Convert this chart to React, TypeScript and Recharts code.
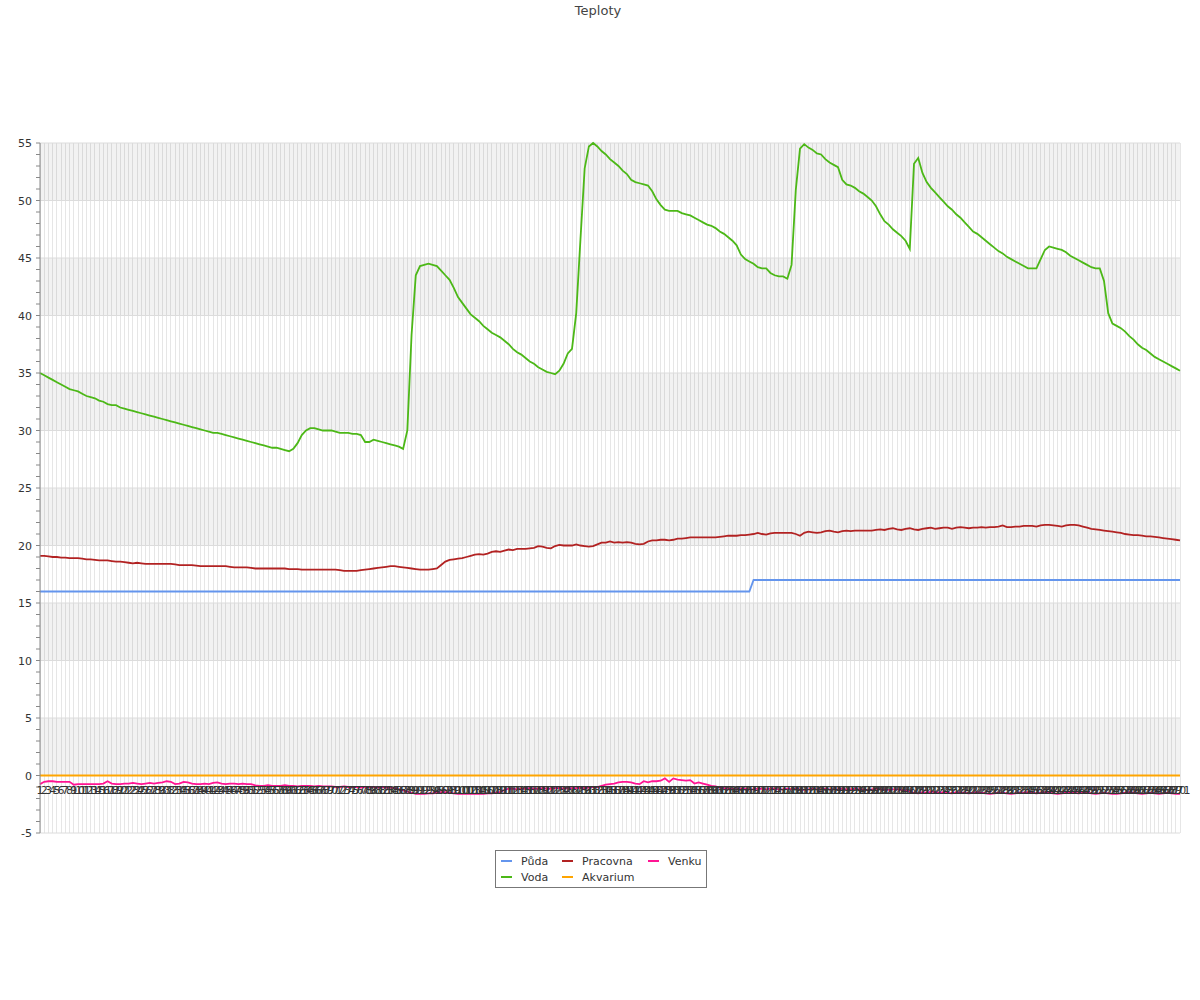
import React from 'react';
import { LineChart, Line, XAxis, YAxis, CartesianGrid, ReferenceArea, ReferenceLine } from 'recharts';

// ---------- data ----------
const labels: string[] = Array.from({ length: 271 }, (_, i) => String(i + 1));

const puda: number[] = [
  16, 16, 16, 16, 16, 16, 16, 16, 16, 16,
  16, 16, 16, 16, 16, 16, 16, 16, 16, 16,
  16, 16, 16, 16, 16, 16, 16, 16, 16, 16,
  16, 16, 16, 16, 16, 16, 16, 16, 16, 16,
  16, 16, 16, 16, 16, 16, 16, 16, 16, 16,
  16, 16, 16, 16, 16, 16, 16, 16, 16, 16,
  16, 16, 16, 16, 16, 16, 16, 16, 16, 16,
  16, 16, 16, 16, 16, 16, 16, 16, 16, 16,
  16, 16, 16, 16, 16, 16, 16, 16, 16, 16,
  16, 16, 16, 16, 16, 16, 16, 16, 16, 16,
  16, 16, 16, 16, 16, 16, 16, 16, 16, 16,
  16, 16, 16, 16, 16, 16, 16, 16, 16, 16,
  16, 16, 16, 16, 16, 16, 16, 16, 16, 16,
  16, 16, 16, 16, 16, 16, 16, 16, 16, 16,
  16, 16, 16, 16, 16, 16, 16, 16, 16, 16,
  16, 16, 16, 16, 16, 16, 16, 16, 16, 16,
  16, 16, 16, 16, 16, 16, 16, 16, 16, 17,
  17, 17, 17, 17, 17, 17, 17, 17, 17, 17,
  17, 17, 17, 17, 17, 17, 17, 17, 17, 17,
  17, 17, 17, 17, 17, 17, 17, 17, 17, 17,
  17, 17, 17, 17, 17, 17, 17, 17, 17, 17,
  17, 17, 17, 17, 17, 17, 17, 17, 17, 17,
  17, 17, 17, 17, 17, 17, 17, 17, 17, 17,
  17, 17, 17, 17, 17, 17, 17, 17, 17, 17,
  17, 17, 17, 17, 17, 17, 17, 17, 17, 17,
  17, 17, 17, 17, 17, 17, 17, 17, 17, 17,
  17, 17, 17, 17, 17, 17, 17, 17, 17, 17,
  17,
];

const voda: number[] = [
  35.0, 34.8, 34.6, 34.4, 34.2, 34.0, 33.8, 33.6, 33.5, 33.4,
  33.2, 33.0, 32.9, 32.8, 32.6, 32.5, 32.3, 32.2, 32.2, 32.0,
  31.9, 31.8, 31.7, 31.6, 31.5, 31.4, 31.3, 31.2, 31.1, 31.0,
  30.9, 30.8, 30.7, 30.6, 30.5, 30.4, 30.3, 30.2, 30.1, 30.0,
  29.9, 29.8, 29.8, 29.7, 29.6, 29.5, 29.4, 29.3, 29.2, 29.1,
  29.0, 28.9, 28.8, 28.7, 28.6, 28.5, 28.5, 28.4, 28.3, 28.2,
  28.4, 28.9, 29.6, 30.0, 30.2, 30.2, 30.1, 30.0, 30.0, 30.0,
  29.9, 29.8, 29.8, 29.8, 29.7, 29.7, 29.6, 29.0, 29.0, 29.2,
  29.1, 29.0, 28.9, 28.8, 28.7, 28.6, 28.4, 30.0, 38.3, 43.5,
  44.3, 44.4, 44.5, 44.4, 44.3, 43.9, 43.5, 43.1, 42.4, 41.6,
  41.1, 40.6, 40.1, 39.8, 39.5, 39.1, 38.8, 38.5, 38.3, 38.1,
  37.8, 37.5, 37.1, 36.8, 36.6, 36.3, 36.0, 35.8, 35.5, 35.3,
  35.1, 35.0, 34.9, 35.2, 35.8, 36.7, 37.1, 40.2, 46.6, 52.8,
  54.7, 55.0, 54.7, 54.3, 54.0, 53.6, 53.3, 53.0, 52.6, 52.3,
  51.8, 51.6, 51.5, 51.4, 51.3, 50.8, 50.1, 49.6, 49.2, 49.1,
  49.1, 49.1, 48.9, 48.8, 48.7, 48.5, 48.3, 48.1, 47.9, 47.8,
  47.6, 47.3, 47.1, 46.8, 46.5, 46.1, 45.3, 44.9, 44.7, 44.5,
  44.2, 44.1, 44.1, 43.7, 43.5, 43.4, 43.4, 43.2, 44.4, 50.9,
  54.5, 54.9, 54.6, 54.4, 54.1, 54.0, 53.6, 53.3, 53.1, 52.9,
  51.8, 51.4, 51.3, 51.1, 50.8, 50.6, 50.3, 50.0, 49.5, 48.8,
  48.2, 47.9, 47.5, 47.2, 46.9, 46.5, 45.8, 53.2, 53.7, 52.4,
  51.6, 51.1, 50.7, 50.3, 49.9, 49.5, 49.2, 48.8, 48.5, 48.1,
  47.7, 47.3, 47.1, 46.8, 46.5, 46.2, 45.9, 45.6, 45.4, 45.1,
  44.9, 44.7, 44.5, 44.3, 44.1, 44.1, 44.1, 44.9, 45.7, 46.0,
  45.9, 45.8, 45.7, 45.5, 45.2, 45.0, 44.8, 44.6, 44.4, 44.2,
  44.1, 44.1, 43.0, 40.2, 39.3, 39.1, 38.9, 38.6, 38.2, 37.9,
  37.5, 37.2, 37.0, 36.7, 36.4, 36.2, 36.0, 35.8, 35.6, 35.4,
  35.2,
];

const pracovna: number[] = [
  19.1, 19.1, 19.05, 19.0, 19.0, 18.95, 18.95, 18.9, 18.9, 18.9,
  18.85, 18.8, 18.8, 18.75, 18.7, 18.7, 18.7, 18.65, 18.6, 18.6,
  18.55, 18.5, 18.45, 18.5, 18.45, 18.4, 18.4, 18.4, 18.4, 18.4,
  18.4, 18.4, 18.35, 18.3, 18.3, 18.3, 18.3, 18.25, 18.2, 18.2,
  18.2, 18.2, 18.2, 18.2, 18.2, 18.15, 18.1, 18.1, 18.1, 18.1,
  18.05, 18.0, 18.0, 18.0, 18.0, 18.0, 18.0, 18.0, 18.0, 17.95,
  17.95, 17.95, 17.9, 17.9, 17.9, 17.9, 17.9, 17.9, 17.9, 17.9,
  17.9, 17.85, 17.8, 17.8, 17.8, 17.8, 17.85, 17.9, 17.95, 18.0,
  18.05, 18.1, 18.15, 18.2, 18.2, 18.15, 18.1, 18.05, 18.0, 17.95,
  17.9, 17.9, 17.9, 17.95, 18.0, 18.3, 18.6, 18.75, 18.8, 18.85,
  18.9, 19.0, 19.1, 19.2, 19.25, 19.2, 19.3, 19.45, 19.5, 19.45,
  19.55, 19.65, 19.6, 19.7, 19.7, 19.7, 19.75, 19.8, 19.95, 19.9,
  19.8, 19.75, 19.95, 20.05, 20.0, 20.0, 20.0, 20.1, 20.0, 19.95,
  19.9, 19.95, 20.1, 20.25, 20.25, 20.35, 20.25, 20.3, 20.25, 20.3,
  20.25, 20.15, 20.1, 20.15, 20.35, 20.45, 20.45, 20.5, 20.5, 20.45,
  20.5, 20.6, 20.6, 20.65, 20.7, 20.7, 20.7, 20.7, 20.7, 20.7,
  20.7, 20.75, 20.8, 20.85, 20.85, 20.85, 20.9, 20.9, 20.95, 21.0,
  21.1, 21.0, 20.95, 21.05, 21.1, 21.1, 21.1, 21.1, 21.1, 21.0,
  20.85, 21.1, 21.2, 21.15, 21.1, 21.15, 21.25, 21.3, 21.2, 21.15,
  21.25, 21.3, 21.25, 21.3, 21.3, 21.3, 21.3, 21.3, 21.35, 21.4,
  21.35, 21.45, 21.5, 21.4, 21.35, 21.45, 21.5, 21.4, 21.35, 21.45,
  21.5, 21.55, 21.45, 21.5, 21.55, 21.55, 21.45, 21.55, 21.6, 21.55,
  21.5, 21.55, 21.55, 21.6, 21.55, 21.6, 21.6, 21.65, 21.75, 21.6,
  21.6, 21.65, 21.65, 21.7, 21.7, 21.7, 21.65, 21.75, 21.8, 21.8,
  21.75, 21.7, 21.65, 21.75, 21.8, 21.8, 21.75, 21.65, 21.55, 21.45,
  21.4, 21.35, 21.3, 21.25, 21.2, 21.15, 21.1, 21.0, 20.95, 20.9,
  20.9, 20.85, 20.8, 20.8, 20.75, 20.7, 20.65, 20.6, 20.55, 20.5,
  20.45,
];

const akvarium: number[] = [
  0, 0, 0, 0, 0, 0, 0, 0, 0, 0, 0, 0, 0, 0, 0, 0, 0, 0, 0, 0,
  0, 0, 0, 0, 0, 0, 0, 0, 0, 0, 0, 0, 0, 0, 0, 0, 0, 0, 0, 0,
  0, 0, 0, 0, 0, 0, 0, 0, 0, 0, 0, 0, 0, 0, 0, 0, 0, 0, 0, 0,
  0, 0, 0, 0, 0, 0, 0, 0, 0, 0, 0, 0, 0, 0, 0, 0, 0, 0, 0, 0,
  0, 0, 0, 0, 0, 0, 0, 0, 0, 0, 0, 0, 0, 0, 0, 0, 0, 0, 0, 0,
  0, 0, 0, 0, 0, 0, 0, 0, 0, 0, 0, 0, 0, 0, 0, 0, 0, 0, 0, 0,
  0, 0, 0, 0, 0, 0, 0, 0, 0, 0, 0, 0, 0, 0, 0, 0, 0, 0, 0, 0,
  0, 0, 0, 0, 0, 0, 0, 0, 0, 0, 0, 0, 0, 0, 0, 0, 0, 0, 0, 0,
  0, 0, 0, 0, 0, 0, 0, 0, 0, 0, 0, 0, 0, 0, 0, 0, 0, 0, 0, 0,
  0, 0, 0, 0, 0, 0, 0, 0, 0, 0, 0, 0, 0, 0, 0, 0, 0, 0, 0, 0,
  0, 0, 0, 0, 0, 0, 0, 0, 0, 0, 0, 0, 0, 0, 0, 0, 0, 0, 0, 0,
  0, 0, 0, 0, 0, 0, 0, 0, 0, 0, 0, 0, 0, 0, 0, 0, 0, 0, 0, 0,
  0, 0, 0, 0, 0, 0, 0, 0, 0, 0, 0, 0, 0, 0, 0, 0, 0, 0, 0, 0,
  0, 0, 0, 0, 0, 0, 0, 0, 0, 0, 0,
];

const venku: number[] = [
  -0.75, -0.55, -0.5, -0.5, -0.55, -0.55, -0.55, -0.55, -0.8, -0.75,
  -0.75, -0.75, -0.75, -0.75, -0.75, -0.7, -0.5, -0.7, -0.75, -0.75,
  -0.7, -0.7, -0.65, -0.7, -0.75, -0.7, -0.65, -0.7, -0.65, -0.6,
  -0.5, -0.55, -0.75, -0.7, -0.55, -0.6, -0.7, -0.75, -0.75, -0.7,
  -0.75, -0.65, -0.6, -0.7, -0.75, -0.7, -0.7, -0.75, -0.7, -0.75,
  -0.75, -0.85, -0.9, -0.9, -0.85, -0.9, -0.9, -0.9, -0.85, -0.9,
  -0.9, -0.95, -0.9, -0.9, -0.9, -0.95, -0.9, -0.95, -0.95, -0.95,
  -1.0, -1.0, -0.95, -1.0, -1.0, -1.0, -1.05, -1.0, -1.0, -1.0,
  -1.05, -1.0, -1.05, -1.05, -1.1, -1.2, -1.3, -1.4, -1.5, -1.6,
  -1.6, -1.6, -1.55, -1.55, -1.5, -1.45, -1.45, -1.5, -1.55, -1.6,
  -1.6, -1.6, -1.6, -1.6, -1.6, -1.6, -1.55, -1.55, -1.5, -1.45,
  -1.25, -1.15, -1.15, -1.2, -1.15, -1.15, -1.1, -1.15, -1.15, -1.1,
  -1.15, -1.15, -1.1, -1.1, -1.15, -1.1, -1.1, -1.1, -1.05, -1.1,
  -1.05, -1.0, -1.0, -0.9, -0.8, -0.75, -0.7, -0.6, -0.55, -0.55,
  -0.6, -0.7, -0.75, -0.5, -0.6, -0.5, -0.5, -0.45, -0.25, -0.55,
  -0.25, -0.35, -0.4, -0.45, -0.4, -0.7, -0.6, -0.7, -0.8, -0.9,
  -0.95, -1.05, -1.1, -1.15, -1.15, -1.2, -1.15, -1.15, -1.2, -1.2,
  -1.15, -1.15, -1.2, -1.15, -1.15, -1.2, -1.2, -1.15, -1.2, -1.15,
  -1.2, -1.25, -1.2, -1.15, -1.2, -1.2, -1.15, -1.2, -1.2, -1.2,
  -1.15, -1.2, -1.2, -1.15, -1.2, -1.2, -1.25, -1.2, -1.15, -1.2,
  -1.2, -1.25, -1.2, -1.2, -1.25, -1.3, -1.4, -1.5, -1.55, -1.45,
  -1.5, -1.4, -1.45, -1.5, -1.45, -1.5, -1.55, -1.45, -1.5, -1.5,
  -1.55, -1.5, -1.45, -1.5, -1.55, -1.6, -1.55, -1.5, -1.5, -1.55,
  -1.6, -1.55, -1.5, -1.5, -1.45, -1.5, -1.55, -1.5, -1.45, -1.5,
  -1.55, -1.6, -1.55, -1.5, -1.45, -1.5, -1.55, -1.5, -1.45, -1.55,
  -1.6, -1.55, -1.5, -1.55, -1.6, -1.6, -1.55, -1.5, -1.45, -1.5,
  -1.55, -1.6, -1.55, -1.5, -1.55, -1.6, -1.55, -1.5, -1.55, -1.6,
  -1.6,
];

const yTicks: number[] = [
  -5, -4, -3, -2, -1, 0, 1, 2, 3, 4, 5, 6, 7, 8, 9, 10, 11, 12, 13, 14, 15,
  16, 17, 18, 19, 20, 21, 22, 23, 24, 25, 26, 27, 28, 29, 30, 31, 32, 33, 34, 35,
  36, 37, 38, 39, 40, 41, 42, 43, 44, 45, 46, 47, 48, 49, 50, 51, 52, 53, 54, 55,
];
const majorLines: number[] = [-5, 5, 10, 15, 20, 25, 30, 35, 40, 45, 50, 55];
const bands: [number, number][] = [[0, 5], [10, 15], [20, 25], [30, 35], [40, 45], [50, 55]];

// ---------- config ----------
const SERIES = [
  { key: 'puda', name: 'Půda', color: '#6495ed' },
  { key: 'voda', name: 'Voda', color: '#4cb817' },
  { key: 'pracovna', name: 'Pracovna', color: '#b22222' },
  { key: 'akvarium', name: 'Akvarium', color: '#ffa500' },
  { key: 'venku', name: 'Venku', color: '#ff1493' },
];

const data = labels.map((label, i) => ({
  label,
  puda: puda[i],
  voda: voda[i],
  pracovna: pracovna[i],
  akvarium: akvarium[i],
  venku: venku[i],
}));

const W = 1200;
const H = 1000;
const MARGIN = { top: 143, right: 20, bottom: 166, left: 0 };
const X_AXIS_H = 1;
const Y_AXIS_W = 40;
const Y_MIN = -5;
const Y_MAX = 55;
const PLOT_H = H - MARGIN.top - MARGIN.bottom - X_AXIS_H;
const ZERO_Y = MARGIN.top + (PLOT_H * (Y_MAX - 0)) / (Y_MAX - Y_MIN);
const FONT = '"DejaVu Sans", Verdana, sans-serif';

const YTick = (props: any) => {
  const { x, y, payload } = props;
  if (payload.value % 5 !== 0) return <g />;
  return (
    <text x={x - 2} y={y} dy={4} textAnchor="end" fontSize={11} fontFamily={FONT} fill="#333">
      {payload.value}
    </text>
  );
};

const XTick = (props: any) => {
  const { x, payload } = props;
  return (
    <text x={x} y={ZERO_Y + 18} textAnchor="middle" fontSize={11} fontFamily={FONT} fill="#333">
      {payload.value}
    </text>
  );
};

const LegendBox = () => {
  return (
    <div
      style={{
        position: 'absolute',
        left: 495,
        top: 850,
        width: 205,
        height: 34,
        border: '1px solid #777',
        display: 'grid',
        gridTemplateColumns: '61px 86px 55px',
        gridTemplateRows: '16px 16px',
        gridAutoFlow: 'column',
        paddingLeft: 5,
        paddingTop: 2,
        boxSizing: 'content-box',
        fontFamily: FONT,
        fontSize: 11,
        color: '#333',
      }}
    >
      {SERIES.map((s) => (
        <div key={s.key} style={{ display: 'flex', alignItems: 'center', whiteSpace: 'nowrap' }}>
          <span style={{ display: 'inline-block', width: 11, height: 2, background: s.color, marginRight: 9 }} />
          <span>{s.name}</span>
        </div>
      ))}
    </div>
  );
};

export default function App() {
  return (
    <div style={{ position: 'absolute', left: 0, top: 0, width: W, height: H, background: '#fff' }}>
      <div
        style={{
          position: 'absolute',
          left: 0,
          top: 3,
          width: W - 4,
          textAlign: 'center',
          fontFamily: FONT,
          fontSize: 13,
          color: '#444',
        }}
      >
        Teploty
      </div>
      <LineChart width={W} height={H} data={data} margin={MARGIN}>
        {bands.map(([a, b]) => (
          <ReferenceArea key={`band${a}`} y1={a} y2={b} fill="#000" fillOpacity={0.05} stroke="none" />
        ))}
        <CartesianGrid horizontal={false} vertical={true} stroke="#e6e6e6" shapeRendering="crispEdges" />
        {majorLines.map((v) => (
          <ReferenceLine key={`h${v}`} y={v} stroke="#dcdcdc" strokeWidth={1} />
        ))}
        <ReferenceLine y={0} stroke="#888" strokeWidth={1} />
        <YAxis
          type="number"
          domain={[Y_MIN, Y_MAX]}
          ticks={yTicks}
          interval={0}
          width={Y_AXIS_W}
          tickSize={4}
          axisLine={{ stroke: '#888' }}
          tickLine={{ stroke: '#888' }}
          tick={<YTick />}
        />
        {SERIES.map((s) => (
          <Line
            key={s.key}
            type="linear"
            dataKey={s.key}
            name={s.name}
            stroke={s.color}
            strokeWidth={1.8}
            dot={false}
            activeDot={false}
            isAnimationActive={false}
          />
        ))}
        <XAxis
          dataKey="label"
          interval={0}
          height={X_AXIS_H}
          axisLine={false}
          tickLine={false}
          tick={<XTick />}
        />
      </LineChart>
      <LegendBox />
    </div>
  );
}
